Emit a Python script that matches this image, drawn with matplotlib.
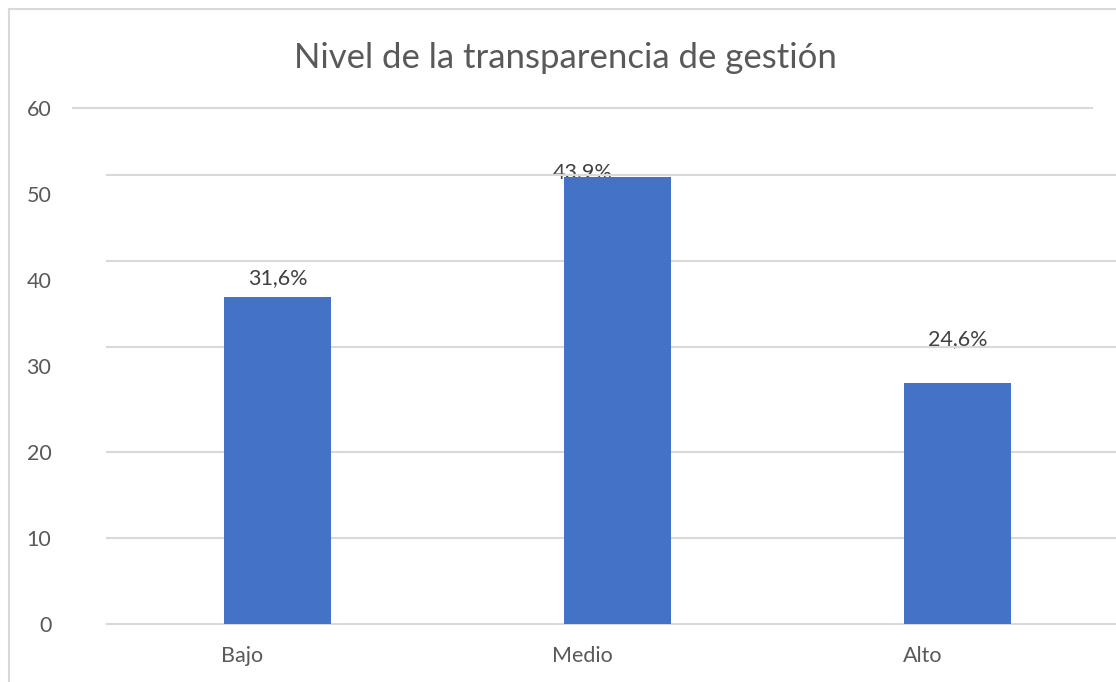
import matplotlib.pyplot as plt
from matplotlib.lines import Line2D
from matplotlib.transforms import offset_copy

categories = ["Bajo", "Medio", "Alto"]
values = [38, 52, 28]
labels = ["31,6%", "43,9%", "24,6%"]
yticks = [0, 10, 20, 30, 40, 50, 60]

# label offsets in pixels (the original picture has them slightly displaced)
label_dx = [0, -35, 0]
label_dy = [13, -1, 38]
# gridlines 30-50 are drawn a bit higher in the original picture
grid_dy = [0, 0, 0, 19, 19, 19, 0]

plt.rcParams["font.family"] = ["Lato", "DejaVu Sans"]
text_color = "#595959"
grid_color = "#D9D9D9"

W, H = 1116, 682
fig = plt.figure(figsize=(W / 100, H / 100), dpi=100)
ax = fig.add_axes([107 / W, 1 - 624 / H, 1009 / W, (624 - 108) / H])

x = list(range(len(categories)))
ax.bar(x, values, width=0.315, color="#4472C4", zorder=3)
left = -(277.5 - 107) / 340
ax.set_xlim(left, left + 1009 / 340)
ax.set_ylim(0, 60)

ytr = ax.get_yaxis_transform()
for t, dy in zip(yticks, grid_dy):
    tr = offset_copy(ytr, fig=fig, y=dy, units="dots")
    if t == 60:
        xs = [(73 - 107) / 1009, (1092 - 107) / 1009]
    else:
        xs = [0, 1]
    ax.plot(xs, [t, t], transform=tr, color=grid_color, lw=1.5,
            clip_on=False, zorder=1)

for xi, v, lab, dx, dy in zip(x, values, labels, label_dx, label_dy):
    ax.annotate(lab, (xi, v), xytext=(dx, dy), textcoords="offset pixels",
                ha="center", va="baseline", fontsize=15.5, color="#404040",
                zorder=0.5)

ax.set_yticks(yticks)
ax.set_xticks([xi - 35 / 340 for xi in x])
ax.set_xticklabels(categories)
ax.tick_params(axis="y", length=0, pad=40, labelsize=15.5, labelcolor=text_color)
ax.tick_params(axis="x", length=0, pad=16, labelsize=15.5, labelcolor=text_color)
for s in ax.spines.values():
    s.set_visible(False)

fig.text(565 / W, 1 - 68 / H, "Nivel de la transparencia de gestión",
         ha="center", va="baseline", fontsize=25, color=text_color)

# outer frame (left and top edges visible)
fig.add_artist(Line2D([8.5 / W, 8.5 / W], [0, 1 - 9 / H], transform=fig.transFigure,
                      color=grid_color, lw=1.5))
fig.add_artist(Line2D([8.5 / W, 1], [1 - 9 / H, 1 - 9 / H], transform=fig.transFigure,
                      color=grid_color, lw=1.5))

fig.savefig("out.png", dpi=100)
